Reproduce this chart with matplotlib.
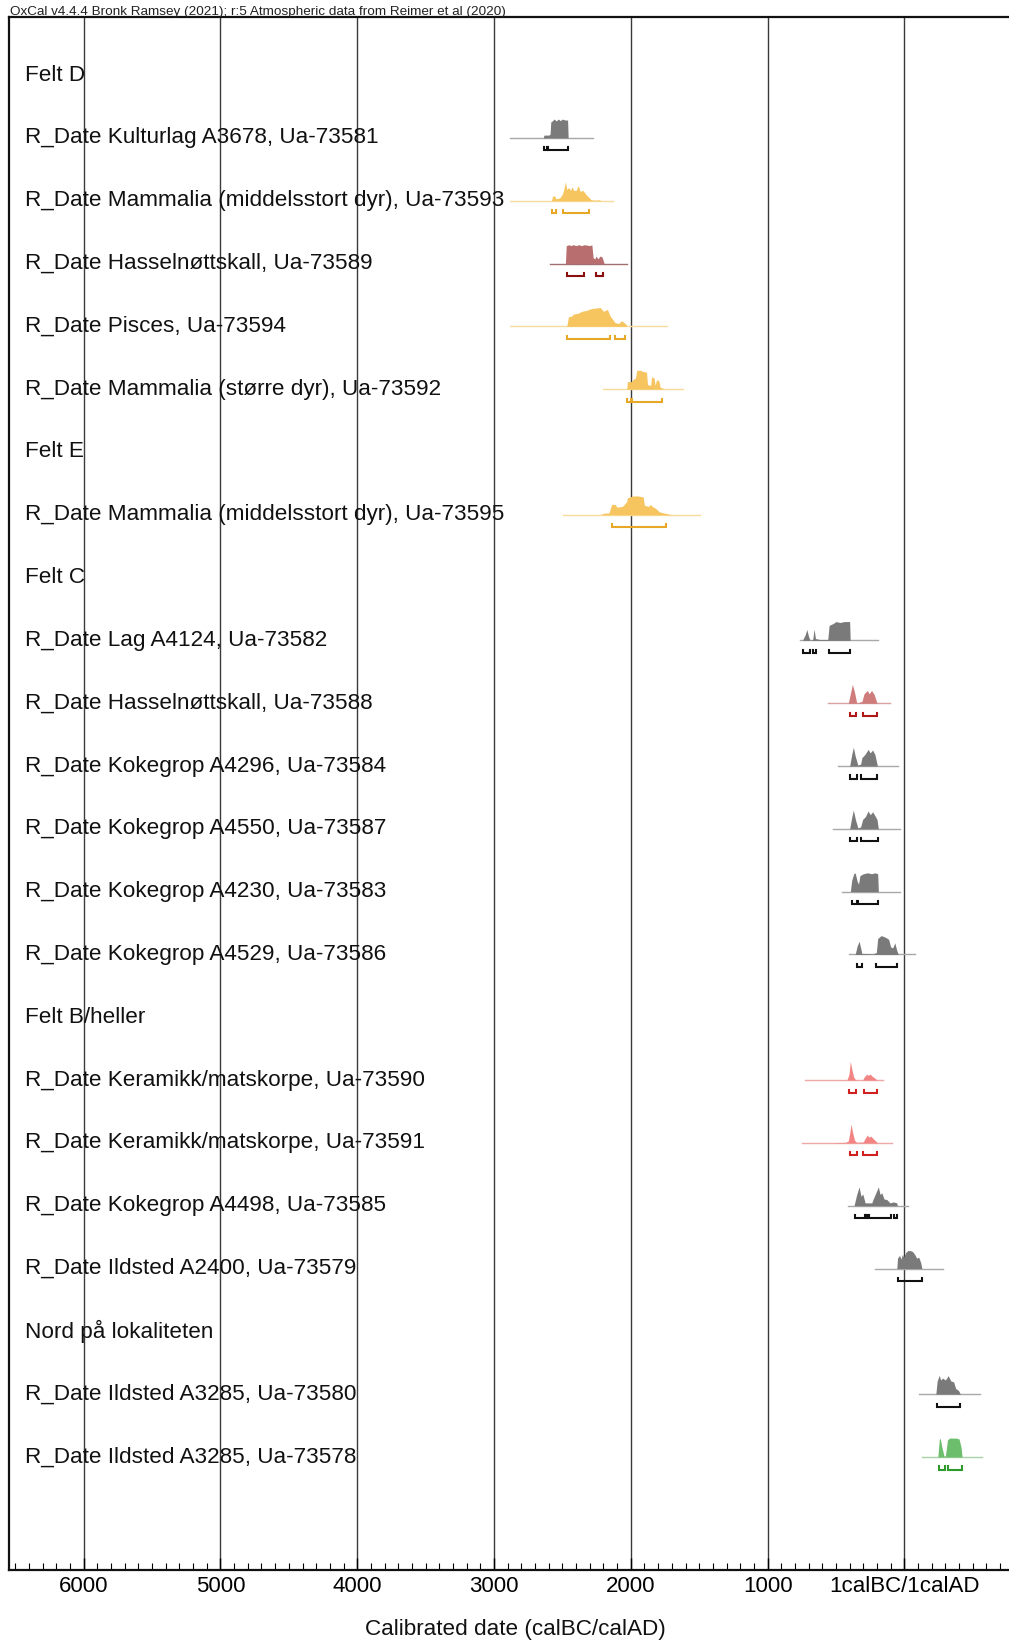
import matplotlib
matplotlib.use("Agg")
import matplotlib.pyplot as plt
import matplotlib.transforms as mtransforms
from matplotlib.ticker import FixedLocator, MultipleLocator

plt.rcParams['font.family'] = ['Liberation Sans', 'DejaVu Sans']

# Row labels, top to bottom
labels = [
    "Felt D",
    "R_Date Kulturlag A3678, Ua-73581",
    "R_Date Mammalia (middelsstort dyr), Ua-73593",
    "R_Date Hasselnøttskall, Ua-73589",
    "R_Date Pisces, Ua-73594",
    "R_Date Mammalia (større dyr), Ua-73592",
    "Felt E",
    "R_Date Mammalia (middelsstort dyr), Ua-73595",
    "Felt C",
    "R_Date Lag A4124, Ua-73582",
    "R_Date Hasselnøttskall, Ua-73588",
    "R_Date Kokegrop A4296, Ua-73584",
    "R_Date Kokegrop A4550, Ua-73587",
    "R_Date Kokegrop A4230, Ua-73583",
    "R_Date Kokegrop A4529, Ua-73586",
    "Felt B/heller",
    "R_Date Keramikk/matskorpe, Ua-73590",
    "R_Date Keramikk/matskorpe, Ua-73591",
    "R_Date Kokegrop A4498, Ua-73585",
    "R_Date Ildsted A2400, Ua-73579",
    "Nord på lokaliteten",
    "R_Date Ildsted A3285, Ua-73580",
    "R_Date Ildsted A3285, Ua-73578",
]

# rows that carry a calibrated date (index into labels)
date_rows = [1, 2, 3, 4, 5, 7, 9, 10, 11, 12, 13, 14, 16, 17, 18, 19, 21, 22]

# colour group of each date
groups = ["grey", "yellow", "rose", "yellow", "yellow", "yellow",
          "grey", "red", "grey", "grey", "grey", "grey",
          "salmon", "salmon", "grey", "grey", "grey", "green"]

# calibrated probability profiles (years, negative = BC) and relative probability
dist_years = [
    [-2640, -2635, -2600, -2590, -2585, -2575, -2560, -2545, -2530, -2515, -2500, -2480, -2462, -2458],
    [-2580, -2572, -2555, -2548, -2520, -2500, -2490, -2478, -2468, -2455, -2440, -2430, -2418, -2400,
     -2385, -2370, -2350, -2330, -2310, -2290, -2260, -2230, -2215],
    [-2478, -2472, -2450, -2440, -2420, -2400, -2380, -2360, -2340, -2300, -2285, -2275, -2262, -2255,
     -2240, -2225, -2210, -2195],
    [-2468, -2456, -2431, -2420, -2383, -2358, -2322, -2285, -2224, -2200, -2171, -2151, -2115, -2091,
     -2066, -2034, -2029],
    [-2030, -2025, -1995, -1985, -1965, -1957, -1930, -1915, -1885, -1878, -1855, -1848, -1830, -1822,
     -1812, -1795, -1785, -1750],
    [-2224, -2200, -2160, -2140, -2115, -2100, -2060, -2030, -2025, -1985, -1950, -1910, -1900, -1870,
     -1855, -1845, -1820, -1790, -1760, -1700],
    [-745, -725, -713, -700, -689, -670, -660, -650, -620, -560, -550, -520, -500, -470, -440, -400, -396],
    [-410, -395, -380, -365, -348, -310, -295, -270, -258, -240, -220, -200],
    [-400, -385, -373, -360, -340, -320, -310, -290, -265, -250, -232, -215, -197],
    [-400, -385, -373, -358, -340, -320, -305, -285, -265, -250, -232, -215, -200, -190],
    [-395, -385, -370, -360, -345, -335, -325, -300, -270, -240, -215, -195, -190],
    [-360, -345, -331, -318, -311, -230, -205, -195, -170, -150, -130, -115, -100, -85, -70, -55, -44],
    [-420, -405, -395, -385, -370, -355, -305, -295, -275, -265, -250, -235, -215, -200],
    [-520, -480, -430, -410, -400, -390, -378, -365, -350, -300, -290, -270, -260, -245, -225, -210, -195],
    [-368, -350, -331, -317, -304, -287, -238, -231, -190, -178, -165, -148, -129, -105, -80, -56, -51],
    [-55, -50, -35, -25, -15, -5, 10, 25, 45, 60, 75, 90, 105, 120, 128],
    [230, 240, 255, 265, 280, 300, 320, 340, 360, 375, 395, 410],
    [245, 255, 262, 275, 290, 300, 315, 330, 380, 400, 415, 422],
]
dist_probs = [
    [0, 0.15, 0.15, 0.2, 0.85, 0.9, 1.0, 0.9, 1.0, 0.92, 1.0, 0.95, 0.95, 0],
    [0, 0.25, 0.25, 0.1, 0.15, 0.35, 0.6, 1.0, 0.6, 0.7, 0.55, 0.75, 0.55, 0.55,
     0.8, 0.5, 0.55, 0.35, 0.2, 0.05, 0.03, 0.05, 0],
    [0, 0.95, 1.0, 0.95, 1.0, 0.95, 1.0, 0.95, 1.0, 0.95, 1.0, 0.3, 0.25, 0.4,
     0.25, 0.4, 0.35, 0],
    [0, 0.5, 0.55, 0.65, 0.7, 0.8, 0.85, 0.95, 1.0, 0.8, 0.9, 0.55, 0.2, 0.15,
     0.3, 0.1, 0],
    [0, 0.4, 0.4, 0.5, 0.6, 1.0, 1.0, 0.95, 0.9, 0.25, 0.2, 0.65, 0.6, 0.2,
     0.5, 0.45, 0.1, 0],
    [0, 0.08, 0.1, 0.55, 0.55, 0.4, 0.45, 0.7, 0.9, 1.0, 1.0, 0.95, 0.5, 0.45,
     0.55, 0.45, 0.35, 0.15, 0.1, 0],
    [0, 0.3, 0.58, 0.2, 0, 0.05, 0.6, 0.1, 0.05, 0.05, 0.8, 0.9, 1.0, 0.95, 1.0, 1.0, 0],
    [0, 0.5, 1.0, 0.6, 0, 0.1, 0.5, 0.68, 0.5, 0.68, 0.45, 0],
    [0, 0.6, 1.0, 0.55, 0.05, 0.1, 0.45, 0.6, 0.88, 0.7, 0.85, 0.6, 0],
    [0, 0.6, 1.0, 0.5, 0.05, 0.1, 0.5, 0.65, 0.95, 0.75, 0.9, 0.7, 0.5, 0],
    [0, 0.6, 0.95, 1.0, 0.55, 0.4, 0.85, 0.95, 1.0, 0.95, 1.0, 0.95, 0],
    [0, 0.45, 0.7, 0.3, 0.05, 0.03, 0.1, 0.85, 1.0, 0.95, 0.88, 0.8, 0.4, 0.35, 0.62, 0.2, 0],
    [0, 0.3, 1.0, 0.6, 0.15, 0, 0, 0.15, 0.32, 0.25, 0.32, 0.2, 0.1, 0],
    [0, 0.02, 0.03, 0.1, 0.5, 1.0, 0.55, 0.15, 0.03, 0.05, 0.2, 0.42, 0.3, 0.36, 0.2, 0.1, 0],
    [0, 0.55, 1.0, 0.5, 0.62, 0.15, 0.15, 0.3, 1.0, 0.6, 0.68, 0.35, 0.33, 0.15, 0.2, 0.15, 0],
    [0, 0.55, 0.7, 0.5, 0.75, 0.6, 0.85, 0.95, 0.95, 0.9, 0.75, 0.55, 0.6, 0.3, 0],
    [0, 0.7, 1.0, 0.75, 0.85, 0.75, 0.98, 0.7, 0.65, 0.3, 0.2, 0],
    [0, 0.9, 1.0, 0.5, 0.05, 0.05, 0.9, 1.0, 1.0, 0.95, 0.5, 0],
]

# extent of the faint likelihood line under each profile
spans = [(-2880, -2275), (-2880, -2130), (-2590, -2030), (-2882, -1737), (-2200, -1615),
         (-2494, -1494), (-763, -190), (-556, -105), (-482, -44), (-523, -31),
         (-458, -32), (-402, 78), (-726, -154), (-750, -92), (-409, 29),
         (-214, 285), (110, 553), (127, 566)]

# highest posterior density ranges drawn as brackets
hpd_ranges = [
    [(-2635, -2612), (-2606, -2460)],
    [(-2575, -2545), (-2495, -2305)],
    [(-2468, -2343), (-2254, -2200)],
    [(-2468, -2151), (-2115, -2042)],
    [(-2025, -1995), (-1990, -1770)],
    [(-2140, -1742)],
    [(-740, -690), (-668, -645), (-548, -397)],
    [(-400, -350), (-304, -202)],
    [(-397, -344), (-319, -197)],
    [(-397, -344), (-319, -190)],
    [(-385, -345), (-340, -190)],
    [(-348, -311), (-207, -51)],
    [(-404, -353), (-295, -202)],
    [(-400, -345), (-304, -202)],
    [(-360, -290), (-282, -270), (-262, -100), (-75, -51)],
    [(-44, 127)],
    [(241, 407)],
    [(253, 298), (322, 420)],
]

group_fill = {"grey": "#7a7a7a", "yellow": "#f6c560", "rose": "#b86e6e",
              "red": "#cf7c7c", "salmon": "#f28484", "green": "#6cbd6c"}
group_line = {"grey": "#a8a8a8", "yellow": "#f8dc9c", "rose": "#a07070",
              "red": "#d8a0a0", "salmon": "#f0a8a8", "green": "#a8d4a8"}
group_hpd = {"grey": "#111111", "yellow": "#e6a826", "rose": "#8a1010",
             "red": "#b01818", "salmon": "#d02020", "green": "#2e9a2e"}

major_years = [-6000, -5000, -4000, -3000, -2000, -1000, 0]
major_labels = ["6000", "5000", "4000", "3000", "2000", "1000", "1calBC/1calAD"]

W, H = 1009, 1641
fig = plt.figure(figsize=(W / 100, H / 100), dpi=100)
ax = fig.add_axes([9.4 / W, 1 - 1570 / H, (W - 9.4) / W, (1570 - 16.7) / H])

ax.set_xlim(-6543, 765)
ax.set_ylim(len(labels) - 1 + 1.80, -0.93)

# vertical grid at every 1000 years
for yr in major_years:
    ax.axvline(yr, color="#3a3a3a", lw=1.0, zorder=1)

peak = 0.3      # height of a full-probability peak, in rows
drop = 0.2      # bracket offset below baseline
hook = 0.05     # bracket end tick height

for k, row in enumerate(date_rows):
    g = groups[k]
    xs = dist_years[k]
    ps = dist_probs[k]
    s0, s1 = spans[k]
    ax.plot([s0, s1], [row, row], color=group_line[g], lw=1.0, zorder=2)
    ax.fill_between(xs, row, [row - p * peak for p in ps],
                    color=group_fill[g], lw=0, zorder=3)
    for a, b in hpd_ranges[k]:
        yb = row + drop
        ax.plot([a, a, b, b], [yb - hook, yb, yb, yb - hook],
                color=group_hpd[g], lw=1.5, solid_joinstyle="miter", zorder=3)

# labels start at 25 px in figure coords, centred on their row
label_trans = mtransforms.blended_transform_factory(fig.transFigure, ax.transData)
for i, lab in enumerate(labels):
    ax.text(25 / W, i, lab, transform=label_trans, fontsize=16.2,
            va="center", ha="left", color="#111111", zorder=4)

ax.xaxis.set_major_locator(FixedLocator(major_years))
ax.set_xticklabels(major_labels, fontsize=16)
ax.xaxis.set_minor_locator(MultipleLocator(100))
ax.tick_params(axis="x", which="major", direction="in", length=9, width=1.0, pad=4)
ax.tick_params(axis="x", which="minor", direction="in", length=5, width=0.8)
ax.set_yticks([])

for side in ["left", "top", "bottom"]:
    ax.spines[side].set_linewidth(1.6)
    ax.spines[side].set_color("#111111")
ax.spines["right"].set_visible(False)

fig.text(10 / W, 1 - 15 / H, "OxCal v4.4.4 Bronk Ramsey (2021); r:5 Atmospheric data from Reimer et al (2020)",
         fontsize=9.7, ha="left", va="baseline", color="#222222")
fig.text(515 / W, 1 - 1629 / H, "Calibrated date (calBC/calAD)", fontsize=16.2,
         ha="center", va="center", color="#111111")

fig.savefig("out.png", dpi=100)
